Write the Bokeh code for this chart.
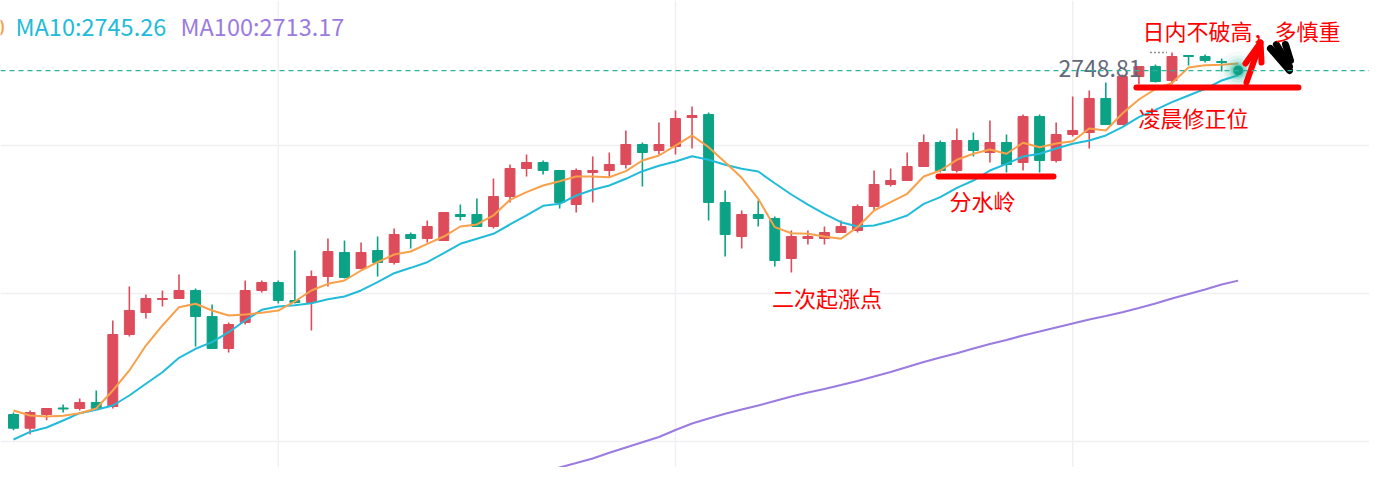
import numpy as np
from bokeh.plotting import figure
from bokeh.models import Range1d, Span, ColumnDataSource
from bokeh.embed import file_html
from bokeh.resources import INLINE
from bokeh.core.properties import value

# ---- candle data ----
opens = [2692.25, 2690.11, 2692.25, 2693.27, 2693.19, 2694.13, 2693.50, 2704.75, 2708.19, 2710.22,
         2710.38, 2711.63, 2707.56, 2702.56, 2706.63, 2711.63, 2712.88, 2710.06, 2709.75, 2713.81,
         2717.56, 2715.06, 2717.88, 2716.00, 2720.38, 2719.75, 2719.44, 2723.50, 2723.50, 2721.63,
         2726.31, 2730.69, 2731.63, 2730.38, 2725.06, 2730.06, 2730.38, 2731.31, 2734.44, 2733.50,
         2734.13, 2738.66, 2739.13, 2725.38, 2720.06, 2723.50, 2722.88, 2716.63, 2719.75, 2719.75,
         2720.69, 2721.00, 2724.75, 2728.19, 2728.81, 2731.00, 2734.75, 2730.38, 2735.06, 2733.19,
         2734.75, 2731.63, 2738.81, 2731.94, 2736.00, 2736.31, 2741.63, 2737.56, 2745.06, 2746.63,
         2744.44, 2748.35, 2748.19, 2747.41]
highs = [2692.56, 2692.88, 2693.19, 2693.81, 2694.75, 2696.00, 2706.94, 2712.25, 2711.00, 2711.63,
         2714.13, 2711.94, 2709.44, 2706.63, 2713.19, 2713.19, 2713.19, 2717.88, 2714.75, 2719.75,
         2719.44, 2719.13, 2720.06, 2721.31, 2720.69, 2722.56, 2723.81, 2725.06, 2726.00, 2729.13,
         2731.31, 2732.88, 2731.94, 2730.38, 2730.69, 2732.56, 2733.19, 2736.63, 2734.75, 2737.88,
         2739.75, 2740.38, 2739.44, 2727.25, 2724.13, 2725.69, 2723.19, 2721.00, 2721.00, 2721.63,
         2722.56, 2725.06, 2730.38, 2730.69, 2733.19, 2736.00, 2735.06, 2736.94, 2736.31, 2738.19,
         2736.00, 2739.13, 2739.13, 2737.88, 2741.94, 2742.88, 2744.13, 2745.38, 2746.63, 2746.94,
         2748.81, 2748.35, 2748.50, 2747.88]
lows = [2689.80, 2689.17, 2691.36, 2692.56, 2692.88, 2693.19, 2693.19, 2704.44, 2707.25, 2709.13,
        2710.38, 2702.88, 2702.56, 2701.94, 2706.31, 2711.31, 2709.60, 2709.60, 2705.38, 2712.25,
        2713.50, 2715.06, 2713.81, 2715.69, 2718.19, 2719.13, 2719.44, 2722.56, 2721.63, 2721.31,
        2725.38, 2729.44, 2729.75, 2724.44, 2723.81, 2725.38, 2729.44, 2730.69, 2727.88, 2732.88,
        2732.88, 2733.81, 2722.56, 2716.94, 2718.19, 2721.63, 2715.38, 2714.44, 2718.81, 2718.81,
        2720.69, 2720.69, 2724.13, 2727.88, 2728.81, 2731.00, 2730.06, 2730.06, 2732.56, 2731.63,
        2730.06, 2730.38, 2730.06, 2731.63, 2735.69, 2733.81, 2737.56, 2737.56, 2743.81, 2744.13,
        2743.81, 2746.78, 2747.25, 2745.85]
closes = [2690.11, 2692.56, 2693.19, 2693.11, 2694.13, 2693.19, 2704.75, 2708.50, 2710.38, 2710.38,
          2711.63, 2707.56, 2702.56, 2706.31, 2711.63, 2712.88, 2710.06, 2709.75, 2713.81, 2717.72,
          2713.66, 2717.56, 2716.00, 2720.38, 2719.75, 2721.63, 2723.81, 2723.19, 2721.63, 2726.31,
          2730.69, 2731.63, 2730.38, 2725.38, 2730.38, 2730.38, 2731.31, 2734.44, 2733.19, 2734.44,
          2738.50, 2738.97, 2725.38, 2720.38, 2723.50, 2722.88, 2716.31, 2720.06, 2720.06, 2720.69,
          2721.63, 2724.75, 2728.19, 2728.81, 2731.00, 2734.75, 2730.38, 2735.06, 2733.50, 2734.75,
          2731.31, 2738.81, 2731.94, 2736.00, 2736.63, 2741.63, 2737.56, 2745.06, 2746.63, 2744.28,
          2748.19, 2748.19, 2747.56, 2747.25]
last_price = 2745.99

# ---- moving averages (one per bar incl. live bar) ----
ma5 = [2692.88, 2692.10, 2691.94, 2692.05, 2692.46, 2693.19, 2696.00, 2699.13, 2703.03, 2706.16,
       2709.02, 2709.55, 2708.50, 2707.72, 2707.88, 2708.14, 2708.50, 2709.91, 2711.63, 2712.67,
       2713.19, 2714.75, 2716.05, 2717.25, 2717.72, 2718.92, 2720.06, 2721.63, 2721.94, 2723.35,
       2725.80, 2726.99, 2728.03, 2728.71, 2729.44, 2729.44, 2729.33, 2730.27, 2731.94, 2732.72,
       2734.28, 2735.85, 2734.02, 2731.67, 2729.24, 2725.96, 2721.52, 2720.58, 2720.49, 2720.06,
       2719.71, 2721.52, 2724.13, 2725.42, 2726.74, 2729.44, 2730.38, 2732.05, 2732.99, 2733.66,
       2732.99, 2734.71, 2734.02, 2734.60, 2734.96, 2736.94, 2736.63, 2739.28, 2741.47, 2743.11,
       2744.05, 2746.47, 2746.83, 2746.91, 2747.10]
ma10 = [2688.35, 2689.55, 2690.22, 2691.31, 2692.46, 2692.99, 2693.66, 2695.22, 2697.05, 2698.86,
        2701.11, 2702.52, 2703.55, 2705.11, 2706.94, 2708.61, 2709.13, 2709.33, 2709.64, 2710.27,
        2710.69, 2711.63, 2712.92, 2714.33, 2715.17, 2716.05, 2717.46, 2718.92, 2719.71, 2720.49,
        2721.94, 2723.35, 2724.86, 2725.17, 2726.47, 2727.36, 2728.03, 2729.08, 2730.27, 2731.11,
        2731.78, 2732.61, 2732.05, 2731.27, 2730.64, 2730.22, 2728.39, 2726.63, 2725.06, 2723.61,
        2722.30, 2721.63, 2721.78, 2722.46, 2723.35, 2725.17, 2726.21, 2727.67, 2728.81, 2730.38,
        2731.42, 2732.56, 2732.99, 2733.81, 2734.55, 2735.06, 2735.85, 2737.14, 2738.71, 2739.86,
        2741.05, 2742.10, 2743.14, 2744.44, 2745.26]
ma100 = [float("nan")] * 29 + [
        2680.92, 2681.78, 2682.49, 2683.19, 2683.97, 2684.67, 2685.38, 2686.27, 2687.10, 2687.92,
        2688.74, 2689.83, 2690.85, 2691.63, 2692.36, 2693.03, 2693.66, 2694.36, 2695.06, 2695.69,
        2696.24, 2696.86, 2697.49, 2698.19, 2698.89, 2699.67, 2700.46, 2701.16, 2701.83, 2702.56,
        2703.27, 2703.89, 2704.60, 2705.22, 2705.85, 2706.47, 2707.10, 2707.64, 2708.24, 2708.89,
        2709.60, 2710.38, 2711.08, 2711.78, 2712.56, 2713.17]

legend_labels = ["MA5:2747.10", "MA10:2745.26", "MA100:2713.17"]
grid_bars = [16, 40, 64]
grid_prices = [2734.28, 2711.16, 2688.03]

UP, DOWN = "#DC4C5B", "#0CA286"
C5, C10, C100 = "#F8A04A", "#22BBD9", "#9B7BE0"
CJK = value("Noto Sans CJK SC")

n = len(opens)
bars = list(range(n))
colors = [UP if c >= o else DOWN for o, c in zip(opens, closes)]
src = ColumnDataSource(dict(x=bars, o=opens, h=highs, l=lows, c=closes,
                            top=[max(a, b) for a, b in zip(opens, closes)],
                            bot=[min(a, b) for a, b in zip(opens, closes)],
                            col=colors))

p = figure(width=1369, height=467, output_backend="svg", toolbar_location=None,
           x_range=Range1d(-0.7855, 81.934), y_range=Range1d(2683.97, 2756.94),
           x_axis_location=None, y_axis_location=None, min_border=0,
           background_fill_color="white", border_fill_color="white")
p.outline_line_color = None
p.xgrid.visible = False
p.ygrid.visible = False

for g in grid_bars:
    p.add_layout(Span(location=g, dimension="height", line_color="#F0F0F4",
                      line_width=1.5, level="underlay"))
for g in grid_prices:
    p.add_layout(Span(location=g, dimension="width", line_color="#F0F0F4",
                      line_width=1.5, level="underlay"))

# candles
p.segment(x0="x", y0="h", x1="x", y1="l", color="col", line_width=1.6, source=src)
p.vbar(x="x", width=0.6, top="top", bottom="bot", fill_color="col",
       line_color="col", line_width=1, source=src)

# MAs
xs = list(range(len(ma5)))
p.line(xs, ma100, color=C100, line_width=2)
p.line(xs, ma10, color=C10, line_width=2)
p.line(xs, ma5, color=C5, line_width=2)

# current price line and glowing dot
p.add_layout(Span(location=last_price, dimension="width", line_color="#2BB39C",
                  line_width=1.2, line_dash="5 4"))
live = len(ma5) - 1
for s, a in [(38, 0.05), (30, 0.08), (24, 0.12), (18, 0.2), (14, 0.3)]:
    p.scatter([live], [last_price], size=s, fill_color="#1FB596", fill_alpha=a, line_color=None)
p.scatter([live], [last_price], size=10, fill_color="#0E9F86", line_color=None)

# high marker
hi_i = int(np.argmax(highs))
hi_v = highs[hi_i]
p.line([hi_i - 1.3, hi_i - 0.3], [hi_v, hi_v], color="#222222", line_width=1.5, line_dash="1 3")
p.text([hi_i - 1.84], [hi_v - 2.5], text=["%.2f" % hi_v], text_font=CJK,
       text_font_size="23px", text_color="#646878", text_align="right",
       text_baseline="alphabetic")

# legend
p.text([-0.514], [2752.88], text=legend_labels[:1], text_font=CJK,
       text_font_size="23.5px", text_color=C5, text_align="right",
       text_baseline="alphabetic")
p.text([0.121, 10.09], [2752.88, 2752.88], text=legend_labels[1:], text_font=CJK,
       text_font_size="23.5px", text_color=[C10, C100], text_align="left",
       text_baseline="alphabetic")

# hand-drawn annotations
RED = "#FF0000"
p.line([55.89, 62.84], [2729.44, 2729.44], color=RED, line_width=6, line_cap="round")
p.line([67.85, 77.64], [2743.35, 2743.35], color=RED, line_width=6, line_cap="round")
p.line([74.50, 75.35], [2744.13, 2750.38], color=RED, line_width=6, line_cap="round")
p.line([74.44, 75.35, 75.41], [2747.10, 2750.38, 2747.25], color=RED, line_width=6,
       line_cap="round", line_join="round")
p.multi_line([[75.95, 77.10], [76.31, 77.10], [76.86, 77.16]],
             [[2749.44, 2745.99], [2750.07, 2746.63], [2750.07, 2747.56]],
             color="black", line_width=7, line_cap="round")

notes = ["分水岭", "二次起涨点", "凌晨修正位", "日内不破高，多慎重"]
p.text([58.55, 49.15, 71.30, 74.2], [2725.77, 2710.61, 2738.74, 2752.33], text=notes,
       text_font=CJK, text_font_size="22px", text_color=RED, text_align="center",
       text_baseline="alphabetic")

open("out.html", "w").write(file_html(p, INLINE))
